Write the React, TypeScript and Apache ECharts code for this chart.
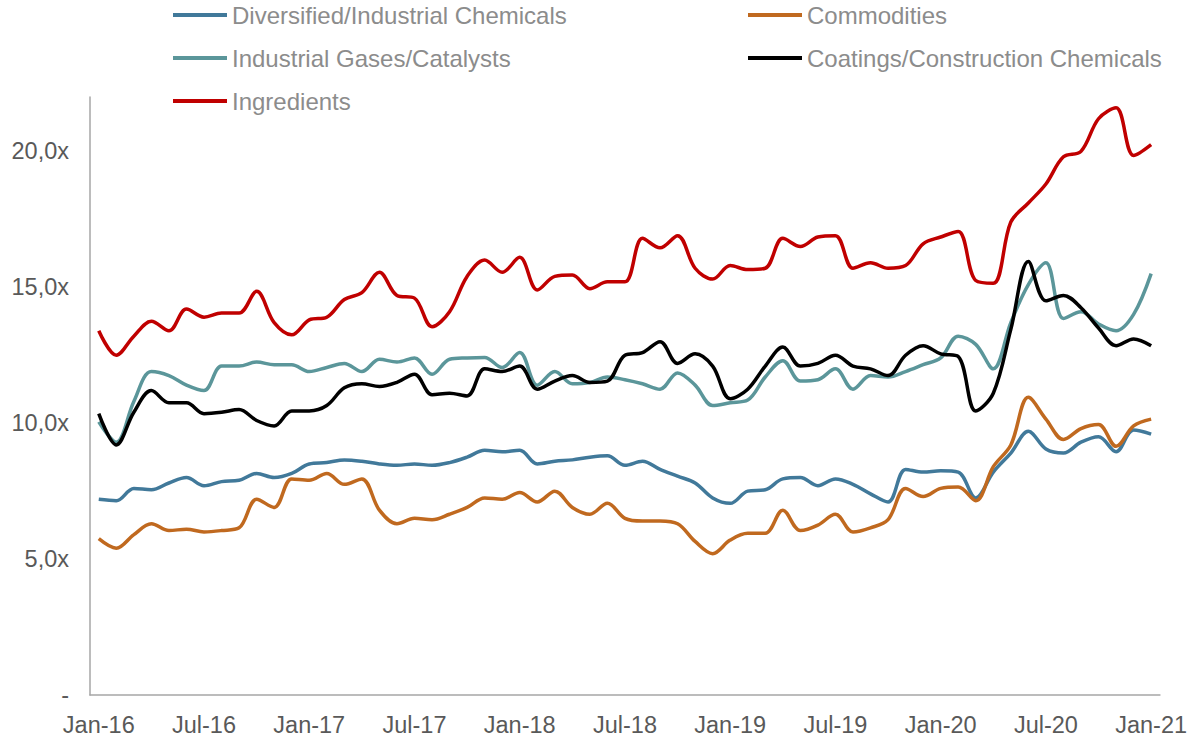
import React, { useEffect, useRef } from "react";
import * as echarts from "echarts";

const MONTHS = ["Jan", "Feb", "Mar", "Apr", "May", "Jun", "Jul", "Aug", "Sep", "Oct", "Nov", "Dec"];
const YEARS = ["16", "17", "18", "19", "20", "21"];
const categories: string[] = [];
YEARS.forEach((y, yi) => {
  MONTHS.forEach((m, mi) => {
    if (yi < YEARS.length - 1 || mi === 0) categories.push(`${m}-${y}`);
  });
});

const SERIES_NAMES = [
  "Diversified/Industrial Chemicals",
  "Commodities",
  "Industrial Gases/Catalysts",
  "Coatings/Construction Chemicals",
  "Ingredients",
];
const COLORS = ["#41799a", "#c0691f", "#5b969a", "#000000", "#c00000"];

const diversified = [
  7.2, 7.15, 7.6, 7.55, 7.8, 8.0, 7.7, 7.85, 7.9, 8.15, 8.0, 8.15,
  8.5, 8.55, 8.65, 8.6, 8.5, 8.45, 8.5, 8.45, 8.55, 8.75, 9.0, 8.95,
  9.0, 8.5, 8.6, 8.65, 8.75, 8.8, 8.45, 8.6, 8.3, 8.05, 7.8, 7.25,
  7.05, 7.5, 7.55, 7.95, 8.0, 7.7, 7.95, 7.75, 7.4, 7.1, 8.3, 8.2,
  8.25, 8.2, 7.25, 8.2, 8.9, 9.7, 9.05, 8.9, 9.3, 9.5, 8.95, 9.75,
  9.6,
];
const commodities = [
  5.75, 5.4, 5.9, 6.3, 6.05, 6.1, 6.0, 6.05, 6.15, 7.2, 6.9, 7.95,
  7.9, 8.15, 7.75, 7.95, 6.8, 6.3, 6.5, 6.45, 6.65, 6.9, 7.25, 7.2,
  7.45, 7.1, 7.5, 6.9, 6.65, 7.05, 6.5, 6.4, 6.4, 6.3, 5.65, 5.2,
  5.7, 5.95, 5.95, 6.8, 6.05, 6.25, 6.65, 6.0, 6.15, 6.45, 7.6, 7.3,
  7.6, 7.65, 7.15, 8.4, 9.2, 10.95, 10.15, 9.4, 9.8, 9.95, 9.15, 9.9,
  10.15,
];
const industrialGases = [
  10.05, 9.3, 10.8, 11.9, 11.75, 11.4, 11.2, 12.1, 12.1, 12.25, 12.15, 12.15,
  11.9, 12.05, 12.2, 11.9, 12.35, 12.25, 12.4, 11.8, 12.35, 12.4, 12.42, 12.05,
  12.6, 11.4, 11.9, 11.45, 11.5, 11.7, 11.6, 11.45, 11.25, 11.85, 11.4, 10.65,
  10.75, 10.85, 11.7, 12.3, 11.55, 11.6, 12.0, 11.25, 11.75, 11.7, 11.9, 12.15,
  12.4, 13.2, 12.9, 12.0, 13.7, 15.1, 15.9, 13.85, 14.1, 13.65, 13.4, 14.0,
  15.5,
];
const coatings = [
  10.35, 9.2, 10.4, 11.2, 10.75, 10.75, 10.35, 10.4, 10.5, 10.1, 9.9, 10.45,
  10.45, 10.65, 11.3, 11.45, 11.35, 11.5, 11.8, 11.05, 11.1, 11.0, 12.0, 11.9,
  12.1, 11.25, 11.55, 11.75, 11.5, 11.55, 12.5, 12.6, 13.0, 12.2, 12.55, 12.1,
  10.9, 11.25, 12.1, 12.8, 12.1, 12.2, 12.5, 12.1, 12.0, 11.75, 12.5, 12.85,
  12.55, 12.45, 10.45, 11.1, 13.45, 15.95, 14.5, 14.7, 14.25, 13.5, 12.85, 13.1,
  12.85,
];
const ingredients = [
  13.4, 12.5, 13.2, 13.75, 13.4, 14.2, 13.9, 14.05, 14.05, 14.85, 13.7, 13.25,
  13.8, 13.9, 14.55, 14.8, 15.55, 14.7, 14.6, 13.55, 14.1, 15.4, 16.0, 15.55,
  16.1, 14.9, 15.4, 15.45, 14.95, 15.2, 15.2, 16.8, 16.45, 16.9, 15.7, 15.3,
  15.8, 15.65, 15.7, 16.8, 16.5, 16.85, 16.9, 15.7, 15.9, 15.7, 15.8, 16.6,
  16.85, 17.05, 15.25, 15.15, 17.4, 18.1, 18.8, 19.8, 20.0, 21.2, 21.6, 19.85,
  20.25,
];
const SERIES_DATA = [diversified, commodities, industrialGases, coatings, ingredients];

const Y_MAX = 22;
const Y_INTERVAL = 5;

const LEGEND_POS = [
  { left: 173, top: 3 },
  { left: 748, top: 3 },
  { left: 173, top: 46 },
  { left: 748, top: 46 },
  { left: 173, top: 89 },
];

export default function App() {
  const ref = useRef<HTMLDivElement>(null);
  useEffect(() => {
    if (!ref.current) return;
    const chart = echarts.init(ref.current, null, { renderer: "svg" });
    const font = "Arial, 'Liberation Sans', sans-serif";
    chart.setOption({
      animation: false,
      textStyle: { fontFamily: font },
      legend: SERIES_NAMES.map((n, i) => ({
        data: [n],
        left: LEGEND_POS[i].left,
        top: LEGEND_POS[i].top,
        icon: "rect",
        itemWidth: 54,
        itemHeight: 4,
        padding: 0,
        selectedMode: false,
        textStyle: { color: "#8c8c8c", fontSize: 24, fontFamily: font, padding: [0, 0, 0, 0] },
      })),
      grid: { left: 90, right: 22, top: 97, bottom: 40, containLabel: false },
      xAxis: {
        type: "category",
        data: categories,
        boundaryGap: true,
        axisLine: { lineStyle: { color: "#a6a6a6", width: 1.5 } },
        axisTick: { show: false },
        axisLabel: {
          interval: 5,
          color: "#595959",
          fontSize: 23.5,
          fontFamily: font,
          margin: 18,
          showMaxLabel: true,
        },
        splitLine: { show: false },
      },
      yAxis: {
        type: "value",
        min: 0,
        max: Y_MAX,
        interval: Y_INTERVAL,
        axisLine: { show: true, lineStyle: { color: "#a6a6a6", width: 1.5 } },
        axisTick: { show: false },
        splitLine: { show: false },
        axisLabel: {
          color: "#595959",
          fontSize: 23.5,
          fontFamily: font,
          margin: 21,
          showMaxLabel: false,
          formatter: (v: number) =>
            v === 0 ? "-" : v % 5 === 0 ? v.toFixed(1).replace(".", ",") + "x" : "",
        },
      },
      series: SERIES_NAMES.map((n, i) => ({
        name: n,
        type: "line",
        data: SERIES_DATA[i],
        smooth: 0.35,
        showSymbol: false,
        symbol: "none",
        color: COLORS[i],
        lineStyle: { color: COLORS[i], width: 3.5 },
      })),
    });
    return () => chart.dispose();
  }, []);
  return <div ref={ref} style={{ width: 1190, height: 737, position: "absolute", left: 0, top: 0 }} />;
}
